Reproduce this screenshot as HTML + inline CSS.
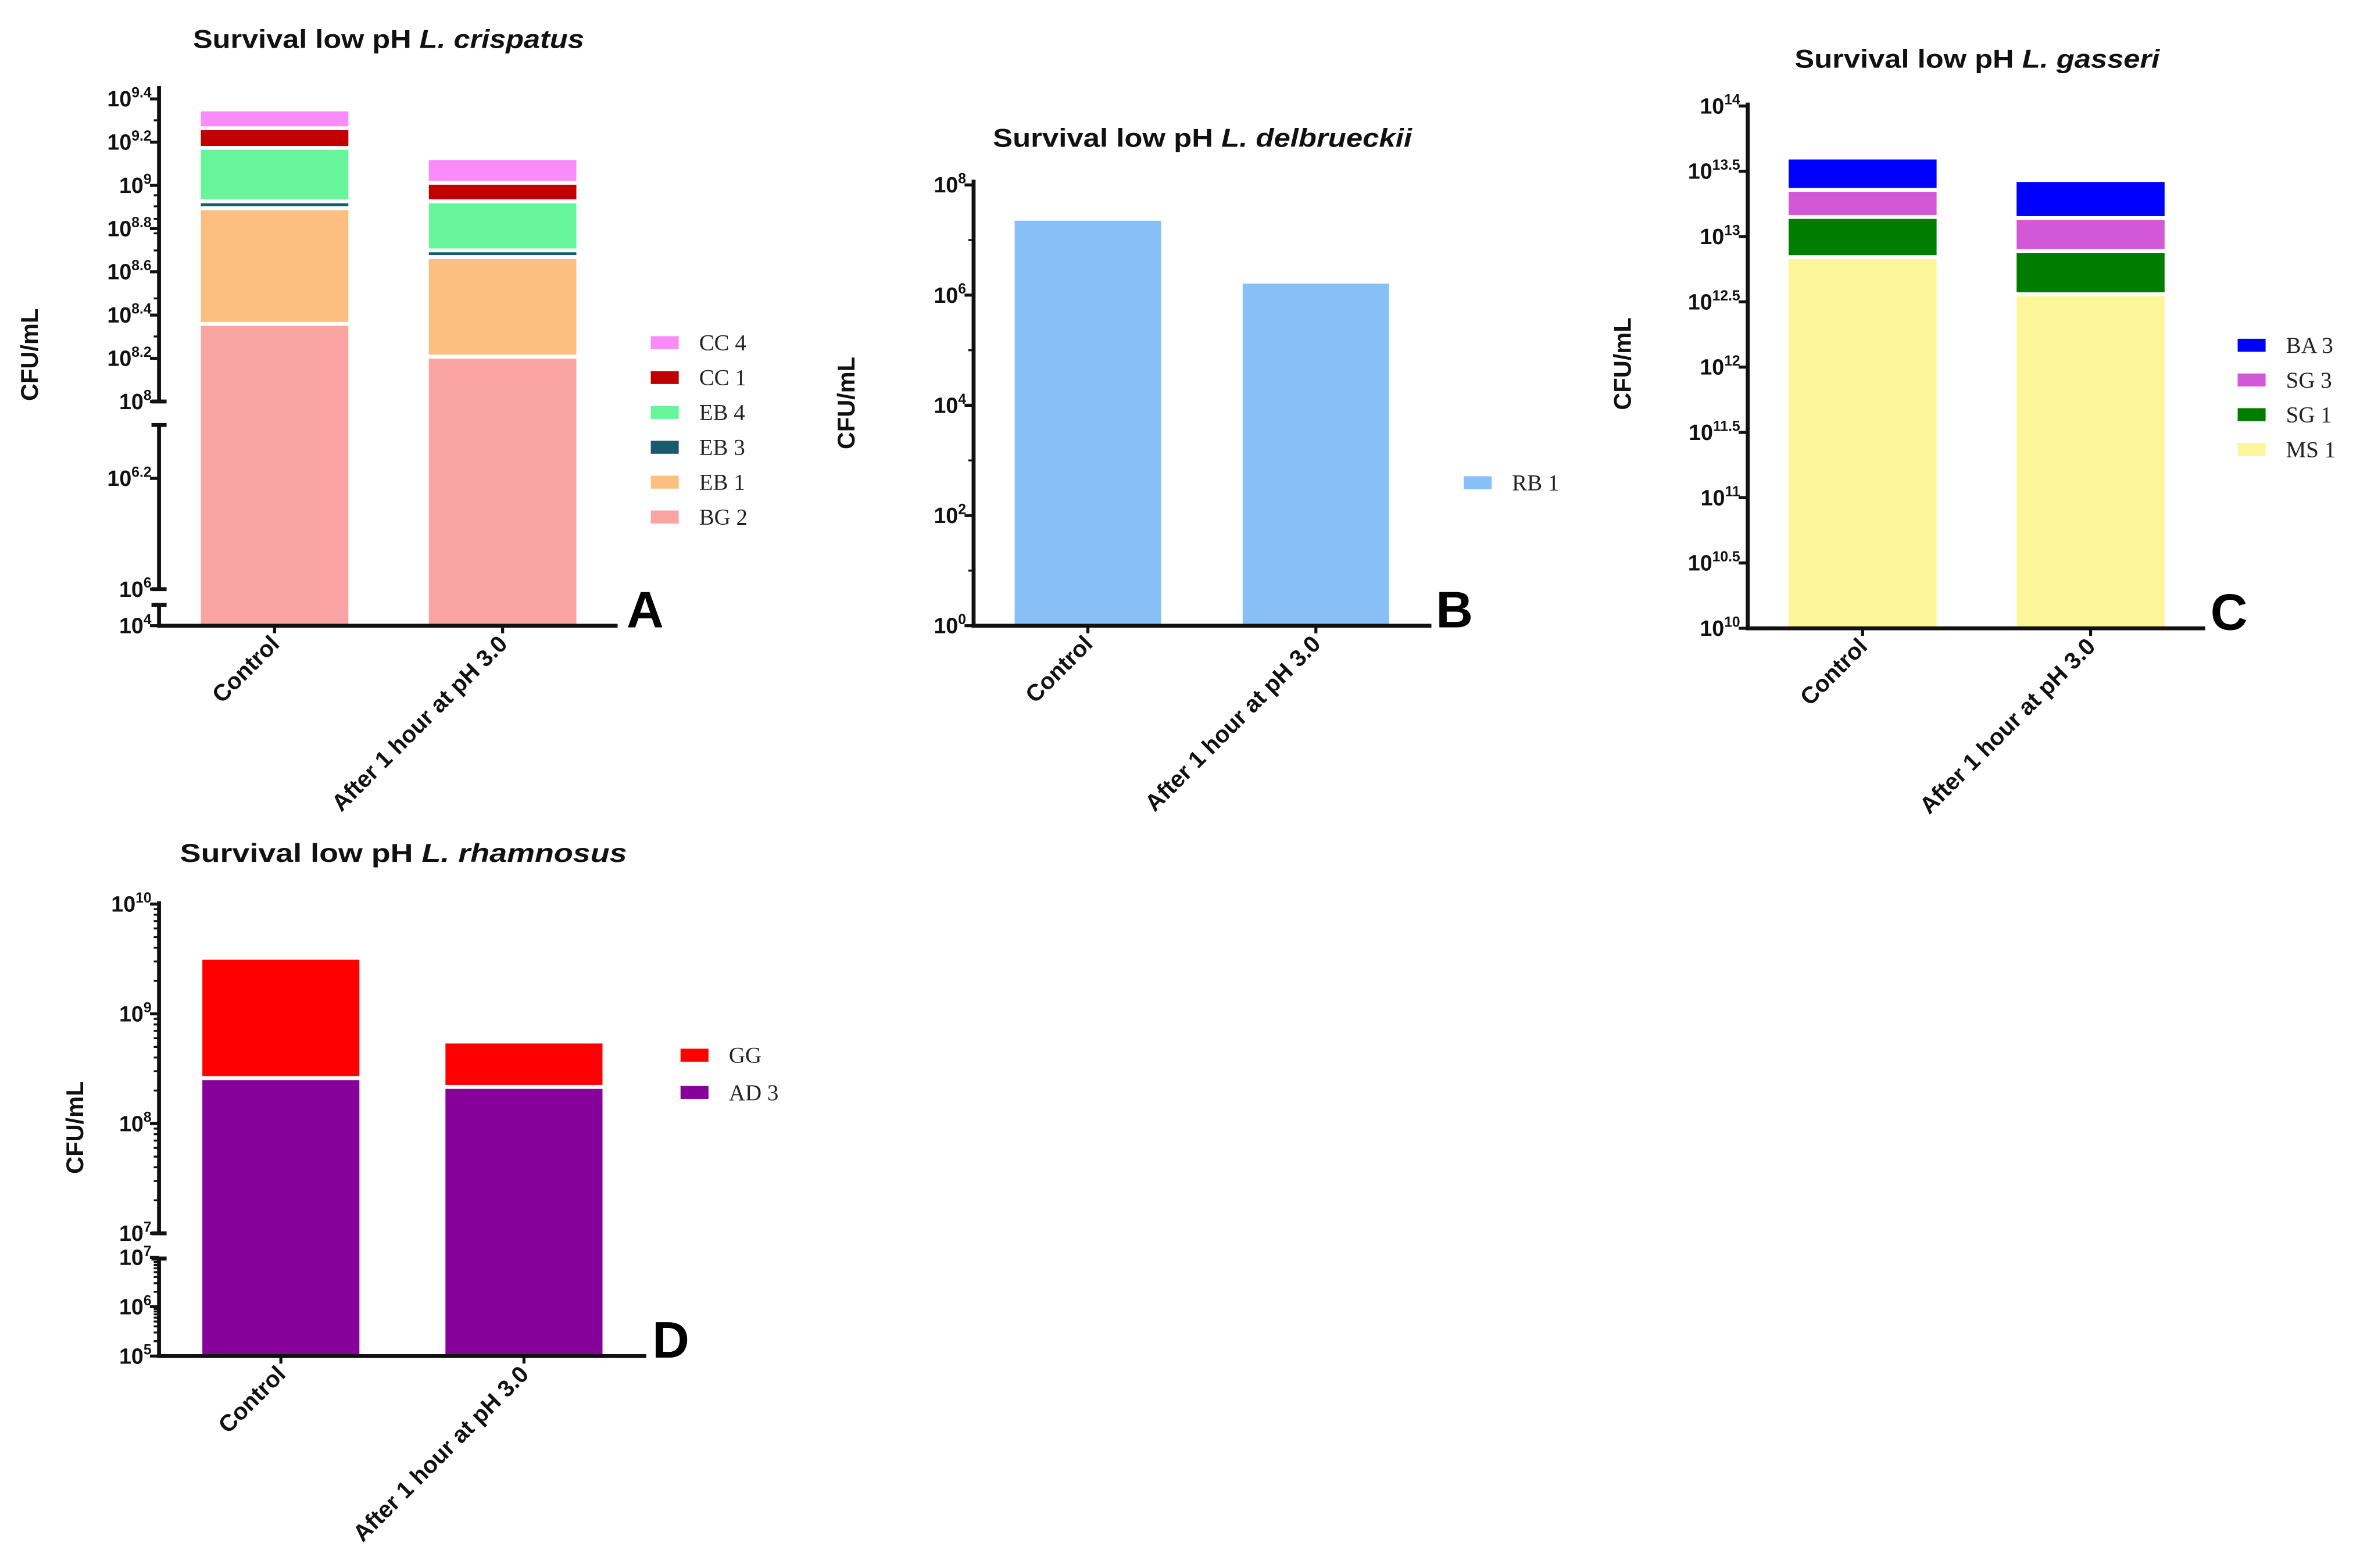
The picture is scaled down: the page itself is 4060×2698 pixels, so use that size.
<!DOCTYPE html>
<html><head><meta charset="utf-8">
<style>
html,body{margin:0;padding:0;background:#fff;}
svg{display:block;}
text{font-family:"Liberation Sans",Arial,sans-serif;}
.lg{font-family:"Liberation Serif","Times New Roman",serif;font-size:15px;fill:#222;}
</style></head>
<body>
<svg id="fig" xmlns="http://www.w3.org/2000/svg" width="4060" height="2698" viewBox="0 0 1563 1038.7">
<rect x="0" y="0" width="1563" height="1038.7" fill="#fff"/>
</svg>
<script>
// ---------- DATA ----------
const categories = ['Control', 'After 1 hour at pH 3.0'];
// Panel A (L. crispatus), CFU/mL per strain
const seriesA = ['BG 2', 'EB 1', 'EB 3', 'EB 4', 'CC 1', 'CC 4'];
const bg2A = [2.24e8, 1.58e8];
const eb1A = [5.44e8, 2.98e8];
const eb3A = [0.58e8, 0.34e8];
const eb4A = [6.34e8, 3.36e8];
const cc1A = [3.4e8, 1.81e8];
const cc4A = [4.0e8, 3.03e8];
const ticksA = [9.4, 9.2, 9, 8.8, 8.6, 8.4, 8.2, 8, 6.2, 6, 4];
const tickLabelsA = ['9.4', '9.2', '9', '8.8', '8.6', '8.4', '8.2', '8', '6.2', '6', '4'];
// Panel B (L. delbrueckii)
const seriesB = ['RB 1'];
const rb1B = [2.24e7, 1.62e6];
const ticksB = [8, 6, 4, 2, 0];
const tickLabelsB = ['8', '6', '4', '2', '0'];
// Panel C (L. gasseri)
const seriesC = ['MS 1', 'SG 1', 'SG 3', 'BA 3'];
const ms1C = [6.71e12, 3.49e12];
const sg1C = [6.94e12, 4.01e12];
const sg3C = [8.35e12, 5.87e12];
const ba3C = [1.69e13, 1.28e13];
const ticksC = [14, 13.5, 13, 12.5, 12, 11.5, 11, 10.5, 10];
const tickLabelsC = ['14', '13.5', '13', '12.5', '12', '11.5', '11', '10.5', '10'];
// Panel D (L. rhamnosus)
const seriesD = ['AD 3', 'GG'];
const ad3D = [2.49e8, 2.07e8];
const ggD = [2.86e9, 3.30e8];
const ticksDUpper = [10, 9, 8, 7];
const ticksDLower = [7, 6, 5];

// ---------- HELPERS ----------
const NS = 'http://www.w3.org/2000/svg';
const svg = document.getElementById('fig');
function mk(tag, attrs, parent) {
  const e = document.createElementNS(NS, tag);
  for (const k in attrs) e.setAttribute(k, attrs[k]);
  (parent || svg).appendChild(e);
  return e;
}
function lg(v) { return Math.log10(v); }

// scales (value -> y)
function yA(v) { const l = lg(v); if (l >= 8) return 266 - (l - 8) * 143.2; if (l >= 6) return 390.3 - (l - 6) * 367; return 414.5 - (l - 4) * 6.9; }
function yAlog(l) { return yA(Math.pow(10, l)); }
function yB(v) { return 414.5 - lg(v) * 36.5; }
function yC(v) { return 416.2 - (lg(v) - 10) * 86.5; }
function yD(v) { const l = lg(v); if (l >= 7) return 817 - (l - 7) * 72.7; return 898.3 - (l - 5) * 32.7; }

function drawPanel(p) {
  const g = mk('g', {});
  
  
  // title
  const t = mk('text', { x: p.titleX, y: p.titleY, 'font-size': 17, 'font-weight': 'bold', fill: '#111', textLength: p.titleW, lengthAdjust: 'spacingAndGlyphs' }, g);
  
  
  t.appendChild(document.createTextNode('Survival low pH '));
  const it = mk('tspan', { 'font-style': 'italic' }, t);
  it.textContent = p.species;
  // y label
  const yl = mk('text', { x: 0, y: 0, 'font-size': 16, 'font-weight': 'bold', fill: '#111', 'text-anchor': 'middle', transform: 'translate(' + p.yLabX + ',' + p.yLabY + ') rotate(-90)' }, g);
  
  
  yl.textContent = 'CFU/mL';
  // bars
  const nCat = categories.length;
  for (let c = 0; c < nCat; c++) {
    let cum = 0;
    for (let s = 0; s < p.values.length; s++) {
      const bottomV = cum;
      cum += p.values[s][c];
      const yTop = p.y(cum);
      let yBot = s === 0 ? p.base : p.y(bottomV) - 2.6;
      const r = mk('rect', { x: p.barX[c], y: yTop, width: p.barW, height: Math.max(0.8, yBot - yTop), fill: p.colors[s] }, g);
      
      
    }
  }
  // y axis segments
  p.segs.forEach(function (sg) {
    const l = mk('line', { x1: p.ax, x2: p.ax, y1: sg[0], y2: sg[1], stroke: '#111', 'stroke-width': 2.6 }, g);
    
    
  });
  p.caps.forEach(function (cy) {
    mk('line', { x1: p.ax - 5, x2: p.ax + 5, y1: cy, y2: cy, stroke: '#111', 'stroke-width': 2.6 }, g);
  });
  // minor ticks
  p.minor.forEach(function (my) {
    mk('line', { x1: p.ax - 3.5, x2: p.ax, y1: my, y2: my, stroke: '#111', 'stroke-width': 1.3 }, g);
  });
  // major ticks + labels
  for (let i = 0; i < p.ticks.length; i++) {
    const ty = p.tickY(p.ticks[i]);
    mk('line', { x1: p.ax - 6, x2: p.ax, y1: ty, y2: ty, stroke: '#111', 'stroke-width': 2 }, g);
    const tl = mk('text', { x: p.ax - 5, y: ty + 5, 'font-size': 14.5, 'font-weight': 'bold', fill: '#111', 'text-anchor': 'end' }, g);
    
    
    tl.appendChild(document.createTextNode('10'));
    const sup = mk('tspan', { dy: -6, 'font-size': 9.5 }, tl);
    sup.textContent = p.tickLabels[i];
  }
  // x axis
  const xa = mk('line', { x1: p.ax - 1.3, x2: p.axEnd, y1: p.base, y2: p.base, stroke: '#111', 'stroke-width': 2.6 }, g);
  
  
  for (let c = 0; c < nCat; c++) {
    const cx = p.barX[c] + p.barW / 2;
    mk('line', { x1: cx, x2: cx, y1: p.base, y2: p.base + 5, stroke: '#111', 'stroke-width': 2 }, g);
    const xl = mk('text', { x: 0, y: 0, 'font-size': 15.5, 'font-weight': 'bold', fill: '#111', 'text-anchor': 'end', transform: 'translate(' + (cx + 4) + ',' + (p.base + 13) + ') rotate(-45)' }, g);
    
    
    xl.textContent = categories[c];
  }
  // panel letter
  const pl = mk('text', { x: p.letterX, y: p.base + 1, 'font-size': 34, 'font-weight': 'bold', fill: '#000' }, g);
  
  
  pl.textContent = p.letter;
  // legend (reverse order)
  const n = p.series.length;
  for (let k = 0; k < n; k++) {
    const s = n - 1 - k;
    const ly = p.legY + k * p.legStep;
    const le = mk('g', {}, g);
    
    
    mk('rect', { x: p.legX, y: ly - 4.3, width: 18.5, height: 8.6, fill: p.colors[s] }, le);
    const lt = mk('text', { x: p.legX + 32, y: ly + 5, class: 'lg' }, le);
    lt.textContent = p.series[s];
  }
}

function minorLog(fn, lo, hi) {
  const out = [];
  for (let d = Math.floor(lo); d <= Math.ceil(hi); d++) {
    for (let k = 2; k <= 9; k++) { const l = d + Math.log10(k); if (l > lo && l < hi) out.push(fn(l)); }
  }
  return out;
}

// Panel A
drawPanel({
  name: 'panel-a-crispatus', species: 'L. crispatus', letter: 'A',
  titleX: 127.8, titleY: 31.8, titleW: 259, yLabX: 25, yLabY: 235,
  values: [bg2A, eb1A, eb3A, eb4A, cc1A, cc4A], series: seriesA,
  colors: ['#f9a3a3', '#fdbf80', '#1a5a6a', '#66f59a', '#c00000', '#f98cf9'],
  y: yA, base: 414.5, barX: [133, 284], barW: 97.7, ax: 105.3, axEnd: 409,
  segs: [[57, 266], [281.5, 390.3], [400.7, 414.5]], caps: [266, 281.5, 390.3, 400.7],
  minor: minorLog(yAlog, 8, 9.42).concat(minorLog(yAlog, 6, 6.29)),
  ticks: ticksA, tickLabels: tickLabelsA, tickY: yAlog,
  letterX: 415, legX: 431, legY: 227, legStep: 23.1
});
// Panel B
drawPanel({
  name: 'panel-b-delbrueckii', species: 'L. delbrueckii', letter: 'B',
  titleX: 657.6, titleY: 97.2, titleW: 277.5, yLabX: 566, yLabY: 267,
  values: [rb1B], series: seriesB, colors: ['#86c0f6'],
  y: yB, base: 414.5, barX: [672, 823], barW: 97, ax: 644.8, axEnd: 948,
  segs: [[119, 414.5]], caps: [],
  minor: [1, 3, 5, 7].map(function (l) { return 414.5 - l * 36.5; }),
  ticks: ticksB, tickLabels: tickLabelsB, tickY: function (l) { return 414.5 - l * 36.5; },
  letterX: 951, legX: 969.4, legY: 319.8, legStep: 23
});
// Panel C
drawPanel({
  name: 'panel-c-gasseri', species: 'L. gasseri', letter: 'C',
  titleX: 1188.6, titleY: 44.9, titleW: 241.7, yLabX: 1080, yLabY: 241,
  values: [ms1C, sg1C, sg3C, ba3C], series: seriesC,
  colors: ['#fdf59a', '#007d00', '#d358d8', '#0000ff'],
  y: yC, base: 416.2, barX: [1184.6, 1335.6], barW: 98, ax: 1157.5, axEnd: 1460.5,
  segs: [[68, 416.2]], caps: [],
  minor: [],
  ticks: ticksC, tickLabels: tickLabelsC, tickY: function (l) { return 416.2 - (l - 10) * 86.5; },
  letterX: 1464, legX: 1482, legY: 228.7, legStep: 23
});
// Panel D
function yDlogU(l) { return 817 - (l - 7) * 72.7; }
function yDlogL(l) { return 898.3 - (l - 5) * 32.7; }
drawPanel({
  name: 'panel-d-rhamnosus', species: 'L. rhamnosus', letter: 'D',
  titleX: 119.2, titleY: 571, titleW: 296, yLabX: 55, yLabY: 747,
  values: [ad3D, ggD], series: seriesD, colors: ['#86009a', '#ff0000'],
  y: yD, base: 898.3, barX: [134, 295], barW: 104, ax: 105.3, axEnd: 428,
  segs: [[597, 817], [833.7, 898.3]], caps: [817, 833.7],
  minor: minorLog(yDlogU, 7, 10).concat(minorLog(yDlogL, 5, 7)),
  ticks: ticksDUpper.concat(ticksDLower), tickLabels: ['10', '9', '8', '7', '7', '6', '5'],
  tickY: (function () { let idx = 0; return function (l) { idx++; return idx <= 4 ? yDlogU(l) : yDlogL(l); }; })(),
  letterX: 432, legX: 450.7, legY: 699, legStep: 24.7
});
</script>
</body></html>
